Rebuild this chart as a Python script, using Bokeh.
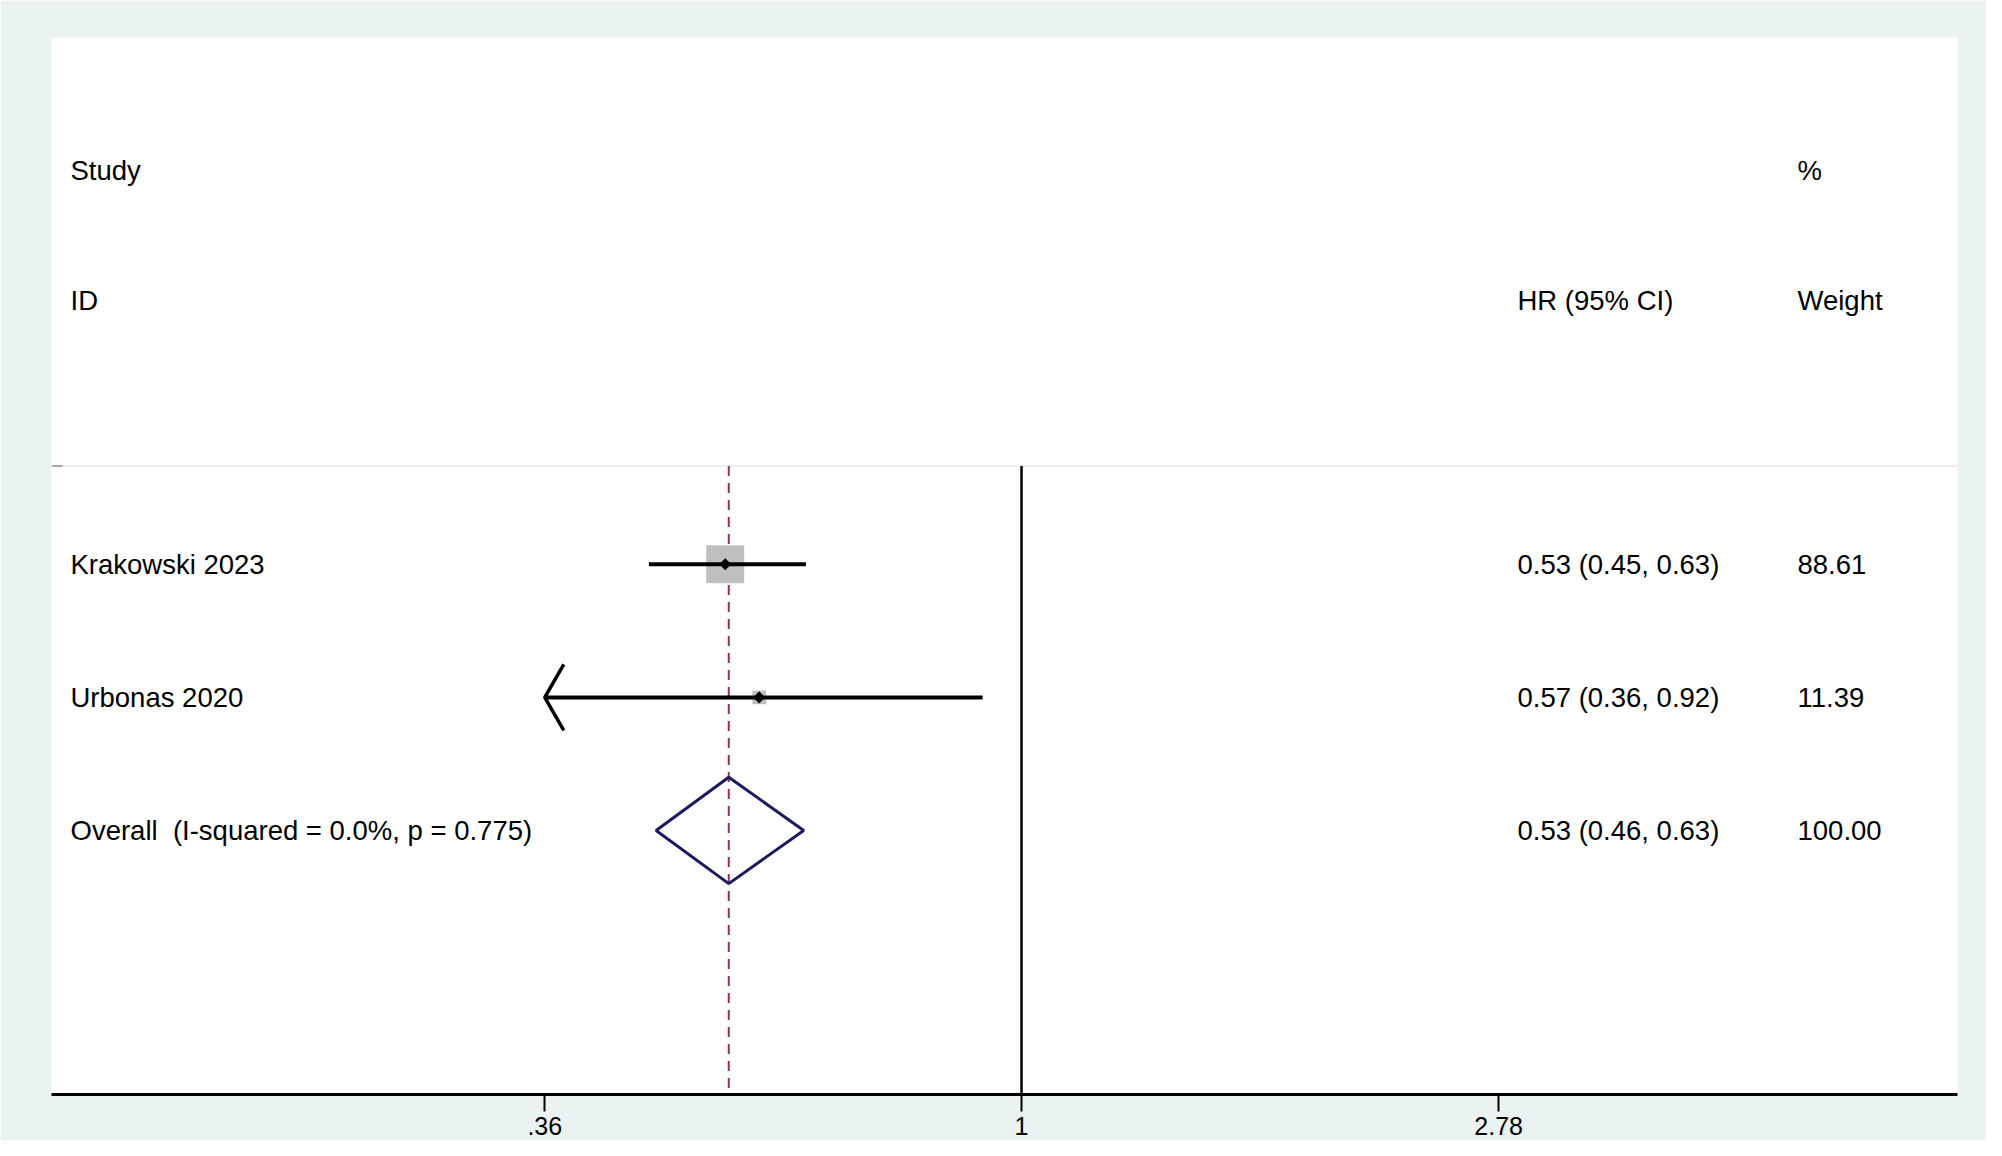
import math
from bokeh.plotting import figure
from bokeh.models import Range1d, FixedTicker
from bokeh.core.properties import value
from bokeh.embed import file_html
from bokeh.resources import INLINE

# ---------------- data ----------------
studies = ["Krakowski 2023", "Urbonas 2020"]
hr = [0.53, 0.57]
ci_lo = [0.45, 0.36]
ci_hi = [0.63, 0.92]
weights = [88.61, 11.39]
hr_text = ["0.53 (0.45, 0.63)", "0.57 (0.36, 0.92)"]
weight_text = ["88.61", "11.39"]

overall_label = "Overall\u00a0 (I-squared = 0.0%, p = 0.775)"
overall_hr = 0.534
overall_lo = 0.457
overall_hi = 0.627
overall_hr_text = "0.53 (0.46, 0.63)"
overall_weight_text = "100.00"

tick_values = [0.36, 1, 2.78]
tick_labels = [".36", "1", "2.78"]

# ---------------- layout ----------------
BG = "#EAF2F2"
FONT = "Liberation Sans"
X_LO, X_HI = 0.1251, 7.431
Y_LO, Y_HI = -0.985, 6.96
FRAME_W, FRAME_H = 1906, 1057
ROW_Y = [3, 2]
OVERALL_Y = 1
HEAD1_Y, HEAD2_Y = 5.96, 4.98
SEP_Y = 3.74
AXIS_MIN = tick_values[0]


def px2x(px):
    return math.exp(math.log(X_LO) + px / FRAME_W * (math.log(X_HI) - math.log(X_LO)))


PX_PER_LN = FRAME_W / (math.log(X_HI) - math.log(X_LO))
PX_PER_ROW = FRAME_H / (Y_HI - Y_LO)

COL_STUDY = px2x(19)
COL_HR = px2x(1466)
COL_W = px2x(1746)

p = figure(width=1986, height=1140, x_axis_type="log",
           x_range=Range1d(X_LO, X_HI), y_range=Range1d(Y_LO, Y_HI),
           output_backend="svg", toolbar_location=None,
           min_border_left=51, min_border_right=29, min_border_top=37,
           min_border_bottom=46)
p.background_fill_color = "white"
p.border_fill_color = BG
p.outline_line_color = None
p.grid.visible = False
p.yaxis.visible = False

# x axis
xa = p.xaxis[0]
xa.ticker = FixedTicker(ticks=tick_values, minor_ticks=[])
xa.major_label_overrides = {t: l for t, l in zip(tick_values, tick_labels)}
xa.axis_line_color = "black"
xa.axis_line_width = 3
xa.major_tick_line_color = "black"
xa.major_tick_line_width = 2
xa.major_tick_out = 17
xa.major_tick_in = 0
xa.minor_tick_line_color = None
xa.major_label_text_font = FONT
xa.major_label_text_font_size = "25px"
xa.major_label_text_color = "black"
xa.major_label_standoff = 5

# separator line with small left tick
p.segment(x0=[X_LO], y0=[SEP_Y], x1=[X_HI], y1=[SEP_Y], line_color="#EDEDED", line_width=2)
p.segment(x0=[X_LO], y0=[SEP_Y], x1=[px2x(11)], y1=[SEP_Y], line_color="#A8A8A8", line_width=2)

# null line and overall dashed line
p.segment(x0=[1], y0=[SEP_Y], x1=[1], y1=[Y_LO], line_color="black", line_width=2.5)
p.segment(x0=[overall_hr], y0=[SEP_Y], x1=[overall_hr], y1=[Y_LO],
          line_color="#8B3A4A", line_width=2, line_dash="10 7")

# weight boxes
box_size = [38 * math.sqrt(w / max(weights)) for w in weights]
p.scatter(x=hr, y=ROW_Y, marker="square", size=box_size,
          fill_color="#BFBFBF", line_color=None)

# CI lines (truncated at axis minimum with arrow)
x0 = [max(lo, AXIS_MIN) for lo in ci_lo]
p.segment(x0=x0, y0=ROW_Y, x1=ci_hi, y1=ROW_Y, line_color="black", line_width=4)
for lo, y in zip(ci_lo, ROW_Y):
    if lo <= AXIS_MIN:
        tip = AXIS_MIN
        ax = tip * math.exp(19 / PX_PER_LN)
        dy = 33 / PX_PER_ROW
        p.line(x=[ax, tip, ax], y=[y + dy, y, y - dy], line_color="black", line_width=3.5)

# point estimates
p.scatter(x=hr, y=ROW_Y, marker="square", angle=math.pi / 4, size=8.5,
          fill_color="black", line_color=None)

# overall diamond
p.patch(x=[overall_lo, overall_hr, overall_hi, overall_hr],
        y=[OVERALL_Y, OVERALL_Y + 0.4, OVERALL_Y, OVERALL_Y - 0.4],
        fill_color=None, line_color="#1a1a5e", line_width=3)

# texts
txt = dict(text_font=value(FONT), text_font_size="27.5px", text_color="black",
           text_align="left", text_baseline="middle")
p.text(x=[COL_STUDY, COL_STUDY], y=[HEAD1_Y, HEAD2_Y], text=["Study", "ID"], **txt)
p.text(x=[COL_HR], y=[HEAD2_Y], text=["HR (95% CI)"], **txt)
p.text(x=[COL_W, COL_W], y=[HEAD1_Y, HEAD2_Y], text=["%", "Weight"], **txt)

p.text(x=[COL_STUDY] * 3, y=ROW_Y + [OVERALL_Y], text=studies + [overall_label], **txt)
p.text(x=[COL_HR] * 3, y=ROW_Y + [OVERALL_Y], text=hr_text + [overall_hr_text], **txt)
p.text(x=[COL_W] * 3, y=ROW_Y + [OVERALL_Y], text=weight_text + [overall_weight_text], **txt)

open("out.html", "w").write(file_html(p, INLINE))
